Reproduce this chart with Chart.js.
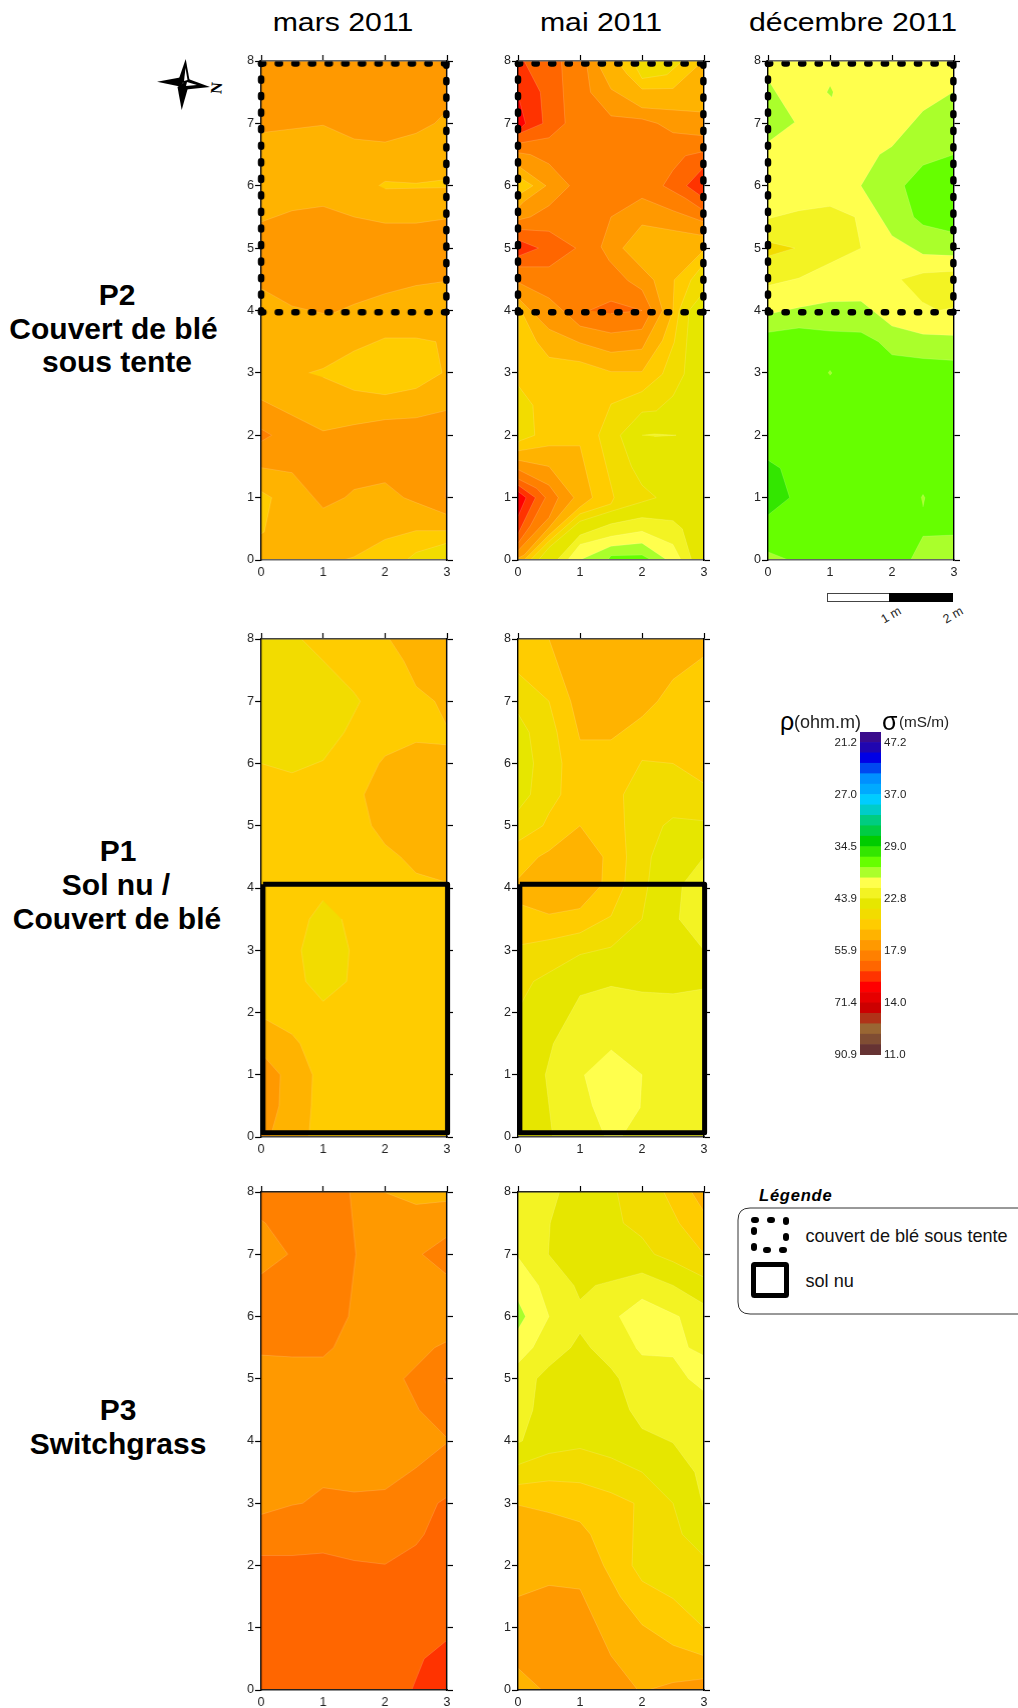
<!DOCTYPE html>
<html lang="fr">
<head>
<meta charset="utf-8">
<title>Cartes de conductivité</title>
<script src="https://cdn.jsdelivr.net/npm/chart.js@4"></script>
<style>
body { margin: 0; background: #fff; }
#page { position: relative; width: 1018px; height: 1708px; overflow: hidden; font-family: "Liberation Sans", Arial, sans-serif; color: #000; }
canvas { position: absolute; }
.t { position: absolute; white-space: nowrap; z-index: 3; }
.month { font-size: 25px; transform: translate(-50%, -50%) scaleX(1.21); }
.row { font-size: 30px; font-weight: bold; transform: translate(-50%, -50%); }
.tiny { font-size: 12.5px; color: #222; transform: translate(-50%, -50%) rotate(-30deg); }
svg { position: absolute; left: 0; top: 0; }
</style>
</head>
<body>
<div id="page">
  <svg width="1018" height="1708">
    <!-- rose des vents -->
    <g fill="#000">
      <polygon points="185.7,59 189.5,80 183,83 178.5,80"/>
      <polygon points="181.7,110 177.5,87 183,83 188.5,86"/>
      <polygon points="157,81.7 180,77.5 183,83 180,86.5"/>
      <polygon points="210,87 187,78.5 183,83 186,89.5"/>
    </g>
    <g fill="#fff">
      <polygon points="185.5,68 187.5,80 184,81"/>
      <polygon points="197,85 187,82 186,86"/>
    </g>
    <!-- échelle -->
    <rect x="827.5" y="593.5" width="62" height="8" fill="#fff" stroke="#444"/>
    <rect x="889" y="593" width="64" height="9" fill="#000"/>
    <!-- légende -->
    <path d="M1019 1208 H750 Q738 1208 738 1220 V1302 Q738 1314 750 1314 H1019" fill="#fff" stroke="#333" stroke-width="1"/>
    <rect x="754" y="1220" width="32" height="30" fill="none" stroke="#000" stroke-width="6" stroke-linecap="round" stroke-dasharray="2 14"/>
    <rect x="753.5" y="1264.5" width="33" height="31" rx="1" fill="#fff" stroke="#000" stroke-width="5"/>
  </svg>

  <div class="t month" style="left:343px;top:22px">mars 2011</div>
  <div class="t month" style="left:601px;top:22px">mai 2011</div>
  <div class="t month" style="left:853px;top:22px">décembre 2011</div>

  <div class="t row" style="left:117px;top:295px">P2</div>
  <div class="t row" style="left:113.5px;top:329px">Couvert de blé</div>
  <div class="t row" style="left:117px;top:362px">sous tente</div>
  <div class="t row" style="left:118px;top:851px">P1</div>
  <div class="t row" style="left:116px;top:885px">Sol nu /</div>
  <div class="t row" style="left:117px;top:919px">Couvert de blé</div>
  <div class="t row" style="left:118px;top:1410px">P3</div>
  <div class="t row" style="left:118px;top:1444px">Switchgrass</div>

  <div class="t" style="left:780px;top:706px;font-size:25px;line-height:30px">ρ</div>
  <div class="t" style="left:794px;top:711px;font-size:18px;line-height:22px;color:#222">(ohm.m)</div>
  <div class="t" style="left:882px;top:706px;font-size:25px;line-height:30px">σ</div>
  <div class="t" style="left:899px;top:711px;font-size:15.3px;line-height:22px;color:#222">(mS/m)</div>

  <div class="t" style="left:759px;top:1185px;font-size:16.5px;line-height:20px;font-weight:bold;font-style:italic;letter-spacing:.8px">Légende</div>
  <div class="t" style="left:805.5px;top:1225px;font-size:18.1px;line-height:22px;color:#111">couvert de blé sous tente</div>
  <div class="t" style="left:805.5px;top:1270px;font-size:18.1px;line-height:22px;color:#111">sol nu</div>
  <div class="t tiny" style="left:891px;top:615px">1 m</div>
  <div class="t tiny" style="left:953px;top:615px">2 m</div>
  <div class="t" style="left:211px;top:79px;font:bold 16px 'Liberation Serif',serif;line-height:18px;transform:rotate(-85deg)">N</div>

  <canvas id="c1"></canvas><canvas id="c2"></canvas><canvas id="c3"></canvas>
  <canvas id="c4"></canvas><canvas id="c5"></canvas>
  <canvas id="c6"></canvas><canvas id="c7"></canvas>
  <canvas id="scaleBar"></canvas>
</div>

<script>
// colour scale, one entry per resistivity class, from 90.9 ohm.m up to 21.2 ohm.m
const levelColors = ['#663333', '#804d33', '#996633', '#b03318', '#cc0000', '#e60000', '#ff0000', '#ff3300',
    '#ff6600', '#ff8000', '#ff9900', '#ffb300', '#ffcc00', '#f2dc00', '#e6e600', '#f3f323', '#ffff4d', '#aaff2b',
    '#66ff00', '#33e600', '#00cc00', '#00cc44', '#00cc80', '#00ccc8', '#00ccff', '#00aaff', '#0090ff', '#0048f0',
    '#0000e6', '#2006b0', '#3a0c8c'];
const rhoLabels = ['90.9', '71.4', '55.9', '43.9', '34.5', '27.0', '21.2'];
const sigmaLabels = ['11.0', '14.0', '17.9', '22.8', '29.0', '37.0', '47.2'];
const labelLevels = [0, 5, 10, 15, 20, 25, 30];

const xTicks = [0, 1, 2, 3];
const yTicks = [0, 1, 2, 3, 4, 5, 6, 7, 8];
const wholePlot = [[0, 0], [3, 0], [3, 8], [0, 8]];

// each band: [colour class, contour polygon in metres], painted in order
const marsP2 = [
    [11, wholePlot],
    [10, [[0, 8], [3, 8], [3, 7.2], [2.8, 7], [2.5, 6.84], [2, 6.7], [1.5, 6.75], [1, 6.97], [0, 6.85]]],
    [12, [[1.9, 6], [2, 6.07], [2.5, 6.04], [3, 6.1], [3, 5.97], [2, 5.95]]],
    [10, [[0, 5.42], [0.5, 5.6], [1, 5.67], [1.5, 5.5], [2, 5.4], [2.5, 5.4], [3, 5.47], [3, 4.47], [2.5, 4.4], [2, 4.27], [1.5, 4.1], [1.1, 3.93], [0.5, 4.07], [0, 4.35]]],
    [12, [[0.77, 3], [1, 3.07], [1.5, 3.35], [2, 3.56], [2.5, 3.56], [2.82, 3.5], [2.92, 3], [2.5, 2.75], [2, 2.65], [1.5, 2.72], [1, 2.93]]],
    [10, [[0, 2.57], [0.2, 2.47], [1, 2.07], [1.5, 2.17], [2, 2.25], [2.5, 2.28], [3, 2.4], [3, 0.73], [2.5, 0.92], [2.3, 1], [2, 1.24], [1.5, 1.13], [1.35, 1], [1, 0.83], [0.5, 1.4], [0, 1.48]]],
    [9, [[0, 2.1], [0.17, 2], [0, 1.9]]],
    [9, [[3, 1.5], [2.97, 1], [3, 1]]],
    [12, [[0, 1.1], [0.17, 1], [0.05, 0.45], [0, 0.42]]],
    [12, [[1.33, 0], [1.5, 0.05], [2, 0.33], [2.5, 0.47], [3, 0.47], [3, 0]]],
    [13, [[2.35, 0], [2.5, 0.12], [3, 0.27], [3, 0]]]
];

const maiP2 = [
    [9, wholePlot],
    [10, [[3, 5.42], [2.5, 5.6], [2, 5.8], [1.5, 5.5], [1.34, 5.02], [1.47, 4.8], [1.77, 4.48], [2, 4.33], [2.16, 4], [2, 3.7], [1.5, 3.64], [1, 3.75], [0.5, 4.2], [0, 4.45], [0, 0], [3, 0]]],
    [11, [[3, 5.2], [2, 5.37], [1.69, 5], [2.19, 4.49], [2.33, 4], [2, 3.38], [1.5, 3.33], [1, 3.48], [0.5, 3.7], [0, 4.2], [0, 0], [3, 0]]],
    [12, [[3, 4.97], [2.52, 4.49], [2.5, 4], [2.33, 3.52], [2, 3.02], [1.5, 3.02], [1, 3.18], [0.5, 3.25], [0.3, 3.5], [0, 4.1], [0, 0], [3, 0]]],
    [13, [[3, 4.75], [2.79, 4.49], [2.6, 4], [2.52, 3.49], [2.33, 2.98], [2, 2.7], [1.5, 2.5], [1.3, 2], [1.55, 1], [1.5, 0.9], [1, 0.74], [0.5, 0.3], [0.2, 0], [3, 0]]],
    [13, [[0, 2.8], [0.24, 2.48], [0.27, 2], [0, 1.9]]],
    [14, [[3, 4.3], [2.76, 4], [2.68, 2.98], [2.5, 2.63], [2.23, 2.39], [2, 2.37], [1.65, 2], [1.83, 1.5], [2, 1.2], [2.23, 1], [2, 0.93], [1.5, 0.78], [1, 0.62], [0.5, 0.2], [0.33, 0], [3, 0]]],
    [15, [[2, 2], [2.2, 2.02], [2.55, 2], [2.2, 1.98]]],
    [15, [[0.63, 0], [1, 0.4], [1.5, 0.58], [2, 0.68], [2.5, 0.63], [2.65, 0.5], [2.8, 0]]],
    [16, [[0.8, 0], [1, 0.25], [1.5, 0.38], [2, 0.46], [2.5, 0.25], [2.63, 0]]],
    [17, [[1, 0], [1.5, 0.22], [2, 0.27], [2.4, 0]]],
    [18, [[1.45, 0], [1.5, 0.07], [2, 0.08], [2.15, 0]]],
    [11, [[0, 1.75], [0.5, 1.83], [1, 1.83], [1.2, 1], [1, 0.85], [0.5, 0.4], [0.1, 0], [0, 0]]],
    [10, [[0, 1.6], [0.5, 1.5], [0.9, 1], [0.5, 0.52], [0.1, 0.08], [0, 0.03]]],
    [9, [[0, 1.45], [0.5, 1.2], [0.65, 1], [0.5, 0.68], [0, 0.15]]],
    [8, [[0, 1.3], [0.3, 1.15], [0.44, 1], [0.2, 0.55], [0, 0.27]]],
    [7, [[0, 1.2], [0.28, 1], [0, 0.42]]],
    [6, [[0, 1.1], [0.13, 1], [0, 0.7]]],
    [8, [[0, 8], [0.7, 8], [0.76, 7], [0.5, 6.77], [0, 6.68]]],
    [7, [[0, 8], [0.1, 8], [0.36, 7.5], [0.4, 7], [0, 6.83]]],
    [6, [[0, 7.45], [0.12, 7], [0, 6.88]]],
    [10, [[1.1, 8], [1.17, 7.5], [1.5, 7.12], [2, 7.07], [2.25, 7], [2.5, 6.85], [3, 6.8], [3, 8]]],
    [11, [[1.27, 8], [1.5, 7.55], [2, 7.25], [3, 7.18], [3, 8]]],
    [12, [[1.6, 8], [1.75, 7.8], [2, 7.55], [2.5, 7.56], [2.98, 8]]],
    [13, [[1.85, 8], [2, 7.72], [2.4, 7.78], [2.65, 8]]],
    [10, [[0, 6.53], [0.2, 6.5], [0.5, 6.35], [0.83, 6], [0.5, 5.68], [0.2, 5.5], [0, 5.45]]],
    [11, [[0, 6.32], [0.45, 6], [0.1, 5.75], [0, 5.65]]],
    [12, [[0, 6.15], [0.24, 6], [0, 5.85]]],
    [8, [[0, 5.3], [0.5, 5.27], [0.93, 5], [0.5, 4.7], [0, 4.7]]],
    [7, [[0, 5.13], [0.33, 5], [0, 4.87]]],
    [8, [[3, 6.55], [2.7, 6.48], [2.5, 6.25], [2.34, 6], [2.7, 5.8], [3, 5.6]]],
    [7, [[3, 6.3], [2.72, 6], [3, 5.8]]],
    [8, [[1.15, 4], [1.5, 4.15], [2, 4], [1.5, 3.95]]]
];

const decP2 = [
    [18, wholePlot],
    [17, [[0, 3.65], [0.5, 3.72], [1, 3.67], [1.5, 3.65], [1.78, 3.5], [2, 3.29], [2.5, 3.23], [3, 3.2], [3, 8], [0, 8]]],
    [16, [[0, 3.94], [0.5, 4.05], [1, 4.14], [1.5, 4.15], [2, 3.75], [2.5, 3.62], [3, 3.6], [3, 8], [0, 8]]],
    [17, [[3, 7.51], [2.5, 7.2], [2, 6.63], [1.8, 6.5], [1.5, 6], [2, 5.2], [2.3, 5.02], [2.5, 4.9], [3, 4.88]]],
    [18, [[3, 6.5], [2.5, 6.33], [2.2, 6], [2.35, 5.5], [2.5, 5.37], [3, 5.25]]],
    [17, [[0, 7.7], [0.43, 7.02], [0, 6.7]]],
    [17, [[1, 7.6], [0.95, 7.5], [1.03, 7.42], [1.05, 7.5]]],
    [15, [[0, 5.47], [0.5, 5.6], [1, 5.67], [1.4, 5.5], [1.5, 5], [0.5, 4.52], [0, 4.4]]],
    [13, [[0, 5.1], [0.43, 5], [0, 4.87]]],
    [15, [[2.15, 4.5], [2.5, 4.6], [3, 4.63], [3, 4.05], [2.75, 4], [2.5, 4.13]]],
    [19, [[0, 1.6], [0.2, 1.47], [0.35, 1], [0, 0.72]]],
    [17, [[0.97, 3], [1, 3.04], [1.03, 3], [1, 2.96]]],
    [17, [[2.47, 1], [2.5, 1.05], [2.53, 1], [2.5, 0.85]]],
    [17, [[2.3, 0], [2.5, 0.38], [3, 0.4], [3, 0]]],
    [17, [[0, 0.13], [0.33, 0], [0, 0]]]
];

const marsP1 = [
    [12, wholePlot],
    [13, [[0, 8], [0.65, 8], [1, 7.65], [1.49, 7.15], [1.6, 7], [1.34, 6.5], [1, 6.05], [0.5, 5.85], [0, 6]]],
    [11, [[2.07, 8], [2.3, 7.65], [2.5, 7.24], [2.8, 7], [3, 6.6], [3, 8]]],
    [11, [[3, 6.3], [2.5, 6.34], [2, 6.12], [1.9, 6], [1.66, 5.5], [1.78, 5], [2, 4.7], [2.25, 4.5], [2.5, 4.24], [3, 4.09]]],
    [13, [[1, 3.8], [0.78, 3.5], [0.65, 3], [0.72, 2.5], [1, 2.18], [1.38, 2.5], [1.42, 3], [1.3, 3.5]]],
    [11, [[0, 1.93], [0.5, 1.65], [0.63, 1.5], [0.83, 1], [0.81, 0.5], [0.77, 0], [0, 0]]],
    [10, [[0, 1.35], [0.31, 1], [0.29, 0.5], [0.15, 0], [0, 0]]]
];

const maiP1 = [
    [12, wholePlot],
    [11, [[0.5, 8], [0.85, 7], [1, 6.38], [1.5, 6.38], [2, 6.75], [2.25, 7], [2.5, 7.35], [3, 7.72], [3, 8]]],
    [11, [[0, 4.15], [0.33, 4.5], [0.5, 4.6], [1, 5], [1.37, 4.5], [1.35, 4.05], [1, 3.67], [0.5, 3.58], [0, 3.75]]],
    [13, [[0, 7.45], [0.5, 7], [0.63, 6.5], [0.71, 6], [0.69, 5.5], [0.5, 5.2], [0.4, 5], [0, 4.75]]],
    [14, [[0, 6.8], [0.18, 6.5], [0.25, 6], [0.2, 5.5], [0, 5.25]]],
    [13, [[3, 5.68], [2.5, 6], [2, 6.05], [1.7, 5.5], [1.72, 5], [1.75, 4.5], [1.72, 4.05], [1.5, 3.55], [1, 3.28], [0.5, 3.17], [0, 3.08], [0, 0], [3, 0]]],
    [14, [[3, 5.08], [2.5, 5.13], [2.34, 5], [2.15, 4.5], [2.1, 4.05], [2, 3.5], [1.5, 3.05], [1, 2.93], [0.25, 2.5], [0, 2.05], [0, 0], [3, 0]]],
    [15, [[3, 4.5], [2.65, 4.05], [2.6, 3.5], [3, 3]]],
    [15, [[0.56, 0], [0.44, 1], [0.57, 1.5], [0.85, 2], [1, 2.27], [1.5, 2.42], [2, 2.33], [2.5, 2.3], [3, 2.38], [3, 0]]],
    [16, [[1.07, 1], [1.2, 0.5], [1.4, 0], [1.67, 0], [1.97, 0.47], [2, 1], [1.5, 1.4]]]
];

const marsP3 = [
    [10, wholePlot],
    [9, [[0, 8], [1.43, 8], [1.53, 7], [1.41, 6], [1.17, 5.5], [1, 5.35], [0.5, 5.35], [0, 5.38]]],
    [10, [[0, 7.55], [0.07, 7.5], [0.43, 7], [0, 6.68]]],
    [11, [[1.98, 8], [2.5, 7.8], [3, 7.85], [3, 8]]],
    [9, [[3, 7.28], [2.6, 7], [3, 6.67]]],
    [9, [[3, 5.6], [2.8, 5.5], [2.5, 5.2], [2.3, 5], [2.55, 4.5], [2.75, 4.3], [3, 4.05]]],
    [8, [[3, 5.05], [2.95, 5], [3, 4.9]]],
    [9, [[0, 2.82], [0.5, 2.97], [0.67, 3], [1, 3.25], [1.5, 3.18], [2, 3.22], [2.5, 3.57], [3, 3.97], [3, 0], [0, 0]]],
    [8, [[0, 2.16], [0.5, 2.16], [1, 2.2], [1.5, 2.08], [2, 2.02], [2.5, 2.33], [2.63, 2.5], [2.85, 3], [3, 3.1], [3, 0], [0, 0]]],
    [7, [[2.43, 0], [2.63, 0.5], [3, 0.8], [3, 0]]]
];

const maiP3 = [
    [15, wholePlot],
    [14, [[0.67, 8], [0.52, 7.5], [0.49, 7], [0.9, 6.5], [1, 6.27], [1.25, 6.5], [2, 6.7], [2.5, 6.5], [3, 6.2], [3, 8]]],
    [14, [[0, 3.97], [0.07, 4], [0.24, 4.5], [0.3, 5], [0.5, 5.2], [0.85, 5.5], [1, 5.73], [1.17, 5.5], [1.5, 5.17], [1.63, 5], [1.8, 4.5], [2, 4.2], [2.5, 3.97], [2.85, 3.5], [2.97, 3], [3, 2.9], [3, 0], [0, 0]]],
    [16, [[0, 6.95], [0.33, 6.5], [0.5, 6], [0.24, 5.5], [0, 5.25]]],
    [17, [[0, 6.25], [0.12, 6], [0, 5.8]]],
    [16, [[1.63, 6], [2, 6.28], [2.6, 6], [2.75, 5.5], [3, 5.37], [3, 4.8], [2.75, 5], [2.5, 5.35], [2, 5.38], [1.9, 5.5]]],
    [13, [[1.6, 8], [1.7, 7.5], [2, 7.27], [2.2, 7], [2.5, 6.88], [3, 6.63], [3, 8]]],
    [12, [[2.35, 8], [2.6, 7.5], [3, 7], [3, 8]]],
    [11, [[2.8, 8], [3, 7.68], [3, 8]]],
    [13, [[0, 3.62], [0.5, 3.8], [1, 3.88], [1.5, 3.73], [2, 3.5], [2.5, 3], [2.65, 2.5], [3, 2.15], [3, 0], [0, 0]]],
    [12, [[0, 3.3], [0.5, 3.36], [1, 3.33], [1.5, 3.17], [1.87, 3], [1.84, 2], [2, 1.75], [2.5, 1.47], [3, 1], [3, 0], [0, 0]]],
    [11, [[0, 2.97], [0.5, 2.85], [1, 2.7], [1.17, 2.5], [1.38, 2], [1.65, 1.5], [2, 1.05], [2.5, 0.72], [3, 0.55], [3, 0], [0, 0]]],
    [10, [[0, 1.5], [0.5, 1.68], [1, 1.62], [1.5, 0.55], [1.93, 0], [0, 0]]],
    [10, [[2.1, 0], [2.5, 0.12], [3, 0.18], [3, 0]]],
    [11, [[0, 0.35], [0.38, 0], [0, 0]]]
];

// outlines of the two treatments, in metres; the tent one is four separate dotted sides
const tentSides = [
    [[0, 3.97], [3, 3.97]],
    [[0, 7.96], [3, 7.96]],
    [[0, 3.97], [0, 7.96]],
    [[2.99, 7.96], [2.99, 3.97]]
];
const bareOutline = [[0.03, 4.06], [3.01, 4.06], [3.01, 0.07], [0.03, 0.07], [0.03, 4.06]];

Chart.defaults.font.family = '"Liberation Sans", Arial, sans-serif';
Chart.defaults.font.size = 12.5;
Chart.defaults.color = '#222';
Chart.defaults.animation = false;

function fixSize(prop, size) {
    return function (scale) { scale[prop] = size; };
}

function toPoints(pts) {
    return pts.map(function (p) { return { x: p[0], y: p[1] }; });
}

function setTicks(values) {
    return function (scale) {
        scale.ticks = values.map(function (v) { return { value: v }; });
    };
}

function placeCanvas(id, left, top, width, height) {
    var c = document.getElementById(id);
    c.width = width;
    c.height = height;
    c.style.left = left + 'px';
    c.style.top = top + 'px';
    c.style.width = width + 'px';
    c.style.height = height + 'px';
    return c;
}

function crearPanel(id, bands, outline, frame, edge) {
    var mLeft = 30, mRight = 14, mTop = 12, mBottom = 24;
    var c = placeCanvas(id, frame.l - mLeft, frame.t - mTop, frame.w + mLeft + mRight, frame.h + mTop + mBottom);

    var datasets = bands.map(function (b) {
        return {
            data: toPoints(b[1]),
            showLine: true,
            fill: 'shape',
            tension: 0,
            pointRadius: 0,
            backgroundColor: levelColors[b[0]],
            borderColor: 'rgba(255,255,255,0.25)',
            borderWidth: 0.6
        };
    });

    if (outline === 'tent') {
        tentSides.forEach(function (side) {
            datasets.push({
                data: toPoints(side), showLine: true, fill: false, clip: false, pointRadius: 0, tension: 0,
                borderColor: '#000', borderWidth: 6.5, borderDash: [2.2, 14.35], borderCapStyle: 'round'
            });
        });
    } else if (outline === 'bare') {
        datasets.push({
            data: toPoints(bareOutline), showLine: true, fill: false, clip: false, pointRadius: 0, tension: 0,
            borderColor: '#000', borderWidth: 5, borderJoinStyle: 'round'
        });
    }

    // chart.js paints the first dataset last, so keep the painting order with "order"
    datasets.forEach(function (d, i) { d.order = datasets.length - i; });

    var tickGrid = { drawOnChartArea: false, drawTicks: true, tickLength: 6, tickColor: '#000', tickWidth: 1.2 };

    return new Chart(c, {
        type: 'scatter',
        data: { datasets: datasets },
        options: {
            responsive: false,
            layout: { padding: 0 },
            plugins: { legend: { display: false }, tooltip: { enabled: false } },
            scales: {
                x: {
                    type: 'linear', min: 0, max: 3, position: 'bottom',
                    afterBuildTicks: setTicks(xTicks),
                    grid: { drawOnChartArea: false, drawTicks: false },
                    border: { color: edge, width: 1.6, z: 1 },
                    ticks: { padding: 5, maxRotation: 0, autoSkip: false },
                    afterFit: fixSize('height', mBottom)
                },
                xTop: {
                    type: 'linear', axis: 'x', min: 0, max: 3, position: 'top',
                    afterBuildTicks: setTicks(xTicks),
                    grid: tickGrid,
                    border: { color: edge, width: 1.6, z: 1 },
                    ticks: { display: false },
                    afterFit: fixSize('height', mTop)
                },
                y: {
                    type: 'linear', min: 0, max: 8, position: 'left',
                    afterBuildTicks: setTicks(yTicks),
                    grid: tickGrid,
                    border: { color: '#000', width: 1.4, z: 1 },
                    ticks: { padding: 1, autoSkip: false },
                    afterFit: fixSize('width', mLeft)
                },
                yRight: {
                    type: 'linear', axis: 'y', min: 0, max: 8, position: 'right',
                    afterBuildTicks: setTicks(yTicks),
                    grid: tickGrid,
                    border: { color: '#000', width: 1.4, z: 1 },
                    ticks: { display: false },
                    afterFit: fixSize('width', mRight)
                }
            }
        }
    });
}

function crearEscala() {
    var mSide = 40, mTop = 10, mBottom = 14;
    var c = placeCanvas('scaleBar', 860 - mSide, 732 - mTop, 21 + 2 * mSide, 323 + mTop + mBottom);
    new Chart(c, {
        type: 'bar',
        data: {
            labels: ['classes'],
            datasets: levelColors.map(function (color) {
                return { data: [1], backgroundColor: color, barPercentage: 1, categoryPercentage: 1, stack: 'scale' };
            })
        },
        options: {
            responsive: false,
            layout: { padding: { top: mTop, bottom: mBottom } },
            plugins: { legend: { display: false }, tooltip: { enabled: false } },
            scales: {
                x: { display: false, stacked: true },
                y: {
                    stacked: true, min: 0, max: levelColors.length, position: 'left',
                    afterBuildTicks: setTicks(labelLevels),
                    grid: { display: false, drawTicks: false },
                    border: { display: false },
                    ticks: { padding: 3, autoSkip: false, font: { size: 11.5 }, callback: function (v, i) { return rhoLabels[i]; } },
                    afterFit: fixSize('width', mSide)
                },
                yRight: {
                    axis: 'y', type: 'linear', min: 0, max: levelColors.length, position: 'right',
                    afterBuildTicks: setTicks(labelLevels),
                    grid: { display: false, drawTicks: false },
                    border: { display: false },
                    ticks: { padding: 3, autoSkip: false, font: { size: 11.5 }, callback: function (v, i) { return sigmaLabels[i]; } },
                    afterFit: fixSize('width', mSide)
                }
            }
        }
    });
}

document.addEventListener('DOMContentLoaded', function () {
    var col1 = 261, col2 = 517.5, col3 = 767.5;
    crearPanel('c1', marsP2, 'tent', { l: col1, t: 61, w: 185.5, h: 499 }, '#666');
    crearPanel('c2', maiP2, 'tent', { l: col2, t: 61, w: 186.7, h: 499 }, '#666');
    crearPanel('c3', decP2, 'tent', { l: col3, t: 61, w: 186.7, h: 499 }, '#666');
    crearPanel('c4', marsP1, 'bare', { l: col1, t: 638.5, w: 185.5, h: 498.5 }, '#444');
    crearPanel('c5', maiP1, 'bare', { l: col2, t: 638.5, w: 186.7, h: 498.5 }, '#444');
    crearPanel('c6', marsP3, null, { l: col1, t: 1191.5, w: 185.5, h: 498 }, '#222');
    crearPanel('c7', maiP3, null, { l: col2, t: 1191.5, w: 186.7, h: 498 }, '#222');
    crearEscala();
});
</script>
</body>
</html>
